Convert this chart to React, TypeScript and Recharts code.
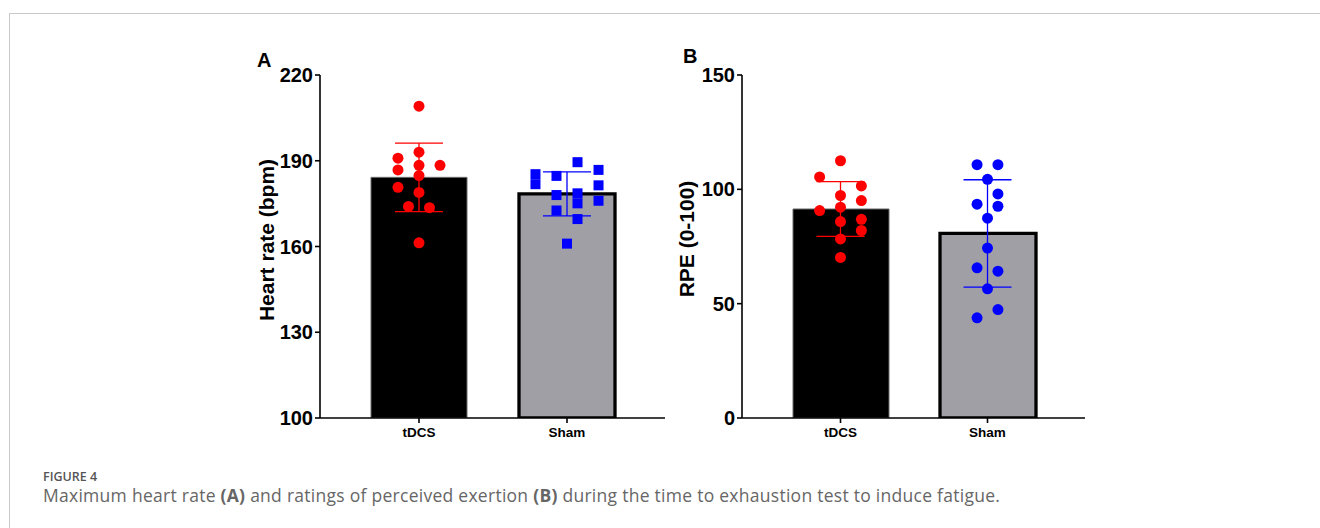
import { ComposedChart, Bar, Cell, Scatter, ErrorBar, XAxis, YAxis } from 'recharts'

const GROUPS = ['tDCS', 'Sham']

// Panel A: maximum heart rate (bpm)
const HR_MEAN = [184.2, 178.4]
const HR_SD = [12.0, 7.7]
const HR_TDCS = [209.1, 193.0, 190.9, 186.8, 188.4, 188.4, 184.8, 180.7, 178.9, 174.0, 173.6, 161.3]
const HR_TDCS_COL = [0, 0, -1, -1, 0, 1, 0, -1, 0, -0.5, 0.5, 0]
const HR_SHAM = [189.5, 185.3, 181.8, 184.7, 186.8, 181.4, 178.0, 178.6, 175.1, 176.0, 172.6, 169.6, 161.0]
const HR_SHAM_COL = [0.5, -1.5, -1.5, -0.5, 1.5, 1.5, -0.5, 0.5, 0.5, 1.5, -0.5, 0.5, 0]
const HR_TICKS = [100, 130, 160, 190, 220]

// Panel B: RPE (0-100)
const RPE_MEAN = [91.4, 80.7]
const RPE_SD = [12.0, 23.5]
const RPE_TDCS = [112.5, 105.4, 101.5, 97.3, 95.1, 92.2, 90.7, 86.9, 85.9, 82.0, 78.3, 70.2]
const RPE_TDCS_COL = [0, -1, 1, 0, 1, 0, -1, 1, 0, 1, 0, 0]
const RPE_SHAM = [110.8, 110.8, 104.4, 98.0, 93.5, 92.6, 87.4, 74.3, 65.7, 64.2, 56.5, 47.4, 43.8]
const RPE_SHAM_COL = [-0.5, 0.5, 0, 0.5, -0.5, 0.5, 0, 0, -0.5, 0.5, 0, 0.5, -0.5]
const RPE_TICKS = [0, 50, 100, 150]

const JITTER = 0.142
const ARIAL = '"Liberation Sans", Arial, sans-serif'
const CAPTION_FONT = '"Open Sans", "Noto Sans", sans-serif'

const RED = '#ff0000'
const BLUE = '#0000ff'

const circleShape = (color: string) => (p: any) =>
  p.cx == null ? null : <circle cx={p.cx} cy={p.cy} r={5.5} fill={color} />
const squareShape = (color: string) => (p: any) =>
  p.cx == null ? null : <rect x={p.cx - 5} y={p.cy - 5} width={10} height={10} fill={color} />
const noShape = () => null

interface PanelProps {
  means: number[]
  sds: number[]
  tdcs: number[]
  tdcsCol: number[]
  sham: number[]
  shamCol: number[]
  ticks: number[]
  shamSquares?: boolean
  marginRight: number
}

function Panel({ means, sds, tdcs, tdcsCol, sham, shamCol, ticks, shamSquares, marginRight }: PanelProps) {
  const bars = GROUPS.map((g, i) => ({ group: g, mean: means[i] }))
  const tdcsPts = tdcs.map((y, i) => ({ x: 1 + tdcsCol[i] * JITTER, y }))
  const shamPts = sham.map((y, i) => ({ x: 2 + shamCol[i] * JITTER, y }))
  const axisStyle = { stroke: '#000', strokeWidth: 1.6 }
  const pad = { left: 25, right: 24 }

  return (
    <ComposedChart width={440} height={400} data={bars} margin={{ top: 20, right: marginRight, left: 0, bottom: 7 }}>
      <XAxis
        xAxisId="cat"
        dataKey="group"
        padding={pad}
        height={30}
        tickSize={5}
        tickMargin={4}
        axisLine={axisStyle}
        tickLine={axisStyle}
        tick={{ fontSize: 13.5, fontWeight: 700, fill: '#000', fontFamily: ARIAL }}
      />
      <XAxis xAxisId="num" dataKey="x" type="number" domain={[0.5, 2.5]} padding={pad} hide allowDataOverflow />
      <YAxis
        type="number"
        domain={[ticks[0], ticks[ticks.length - 1]]}
        ticks={ticks}
        width={80}
        tickSize={5}
        axisLine={axisStyle}
        tickLine={axisStyle}
        tick={{ fontSize: 20, fontWeight: 700, fill: '#000', fontFamily: ARIAL }}
        allowDataOverflow
      />

      <Bar xAxisId="cat" dataKey="mean" barSize={96} isAnimationActive={false}>
        <Cell fill="#000" stroke="#6b6b6b" strokeWidth={1} />
        <Cell fill="#a09fa6" stroke="#000" strokeWidth={3.3} />
      </Bar>

      {/* error bars (mean +/- SD) */}
      <Scatter xAxisId="num" data={[{ x: 1, y: means[0], err: sds[0] }]} dataKey="y" shape={noShape} isAnimationActive={false}>
        <ErrorBar dataKey="err" direction="y" width={24} stroke={RED} strokeWidth={1.3} isAnimationActive={false} />
      </Scatter>
      <Scatter xAxisId="num" data={[{ x: 2, y: means[1], err: sds[1] }]} dataKey="y" shape={noShape} isAnimationActive={false}>
        <ErrorBar dataKey="err" direction="y" width={24} stroke={BLUE} strokeWidth={1.3} isAnimationActive={false} />
      </Scatter>

      {/* individual values */}
      <Scatter xAxisId="num" data={tdcsPts} dataKey="y" shape={circleShape(RED)} isAnimationActive={false} />
      <Scatter
        xAxisId="num"
        data={shamPts}
        dataKey="y"
        shape={shamSquares ? squareShape(BLUE) : circleShape(BLUE)}
        isAnimationActive={false}
      />
    </ComposedChart>
  )
}

export default function App() {
  return (
    <div style={{ position: 'absolute', left: 0, top: 0, width: 1320, height: 528, overflow: 'hidden', background: '#fff' }}>
      <div style={{ position: 'absolute', left: 9, top: 13, width: 1400, height: 700, border: '1.5px solid #c9c9c9' }} />

      <div style={{ position: 'absolute', left: 240, top: 55 }}>
        <Panel
          means={HR_MEAN}
          sds={HR_SD}
          tdcs={HR_TDCS}
          tdcsCol={HR_TDCS_COL}
          sham={HR_SHAM}
          shamCol={HR_SHAM_COL}
          ticks={HR_TICKS}
          shamSquares
          marginRight={15}
        />
      </div>
      <div style={{ position: 'absolute', left: 662, top: 55 }}>
        <Panel
          means={RPE_MEAN}
          sds={RPE_SD}
          tdcs={RPE_TDCS}
          tdcsCol={RPE_TDCS_COL}
          sham={RPE_SHAM}
          shamCol={RPE_SHAM_COL}
          ticks={RPE_TICKS}
          marginRight={17}
        />
      </div>

      <svg width={1320} height={528} style={{ position: 'absolute', left: 0, top: 0, pointerEvents: 'none' }}>
        <g fontFamily={ARIAL} fontWeight={700} fill="#000">
          <text x={257} y={67} fontSize={20}>A</text>
          <text x={683} y={63} fontSize={20}>B</text>
          <text x={266} y={240} fontSize={21} textAnchor="middle" dominantBaseline="central" transform="rotate(-90 266 240)">
            Heart rate (bpm)
          </text>
          <text x={686} y={239} fontSize={21} textAnchor="middle" dominantBaseline="central" transform="rotate(-90 686 239)">
            RPE (0-100)
          </text>
        </g>
        <text x={43} y={481} fontFamily={CAPTION_FONT} fontSize={12.5} fontWeight={600} fill="#555">FIGURE 4</text>
        <text x={43} y={502} fontFamily={CAPTION_FONT} fontSize={17.5} letterSpacing={0.27} fill="#666">
          Maximum heart rate <tspan fontWeight={700}>(A)</tspan> and ratings of perceived exertion{' '}
          <tspan fontWeight={700}>(B)</tspan> during the time to exhaustion test to induce fatigue.
        </text>
      </svg>
    </div>
  )
}
